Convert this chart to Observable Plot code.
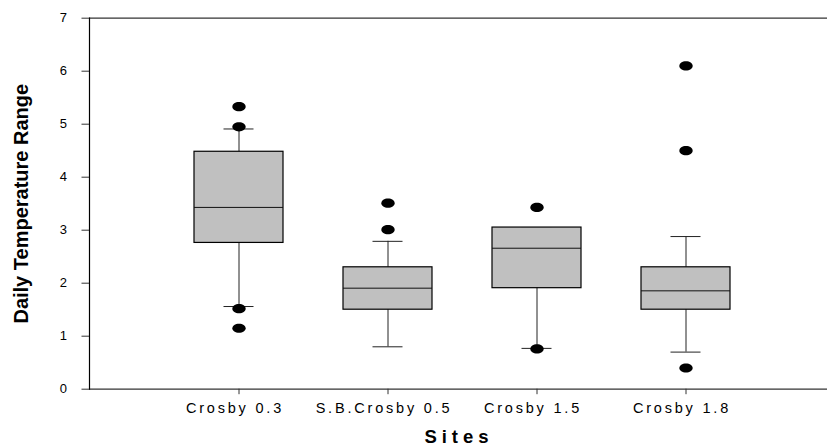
<!DOCTYPE html>
<html><head><meta charset="utf-8">
<script src="https://cdn.jsdelivr.net/npm/d3@7"></script>
<script src="https://cdn.jsdelivr.net/npm/@observablehq/plot@0.6"></script>
<style>
body{margin:0;background:#fff;overflow:hidden}
#chart{width:827px;height:447px;overflow:hidden}
</style></head><body><div id="chart"></div>
<script>
const sites = ["Crosby 0.3", "S.B.Crosby 0.5", "Crosby 1.5", "Crosby 1.8"];
const whiskerLow = [1.56, 0.80, 0.77, 0.70];
const q1 = [2.76, 1.50, 1.906, 1.50];
const median = [3.43, 1.906, 2.66, 1.856];
const q3 = [4.48, 2.30, 3.05, 2.30];
const whiskerHigh = [4.91, 2.79, 3.05, 2.88];
const outliers = [
  [5.33, 4.95, 1.52, 1.15],
  [3.51, 3.01],
  [3.43, 0.76],
  [6.10, 4.50, 0.40]
];
const yTicks = [0, 1, 2, 3, 4, 5, 6, 7];

const boxes = sites.map((site, i) => ({
  site, lo: whiskerLow[i], q1: q1[i], median: median[i], q3: q3[i], hi: whiskerHigh[i]
}));
const points = sites.flatMap((site, i) => outliers[i].map(v => ({site, v})));

const ellipse = {
  draw(ctx, size) {
    const r = Math.sqrt(size / Math.PI), rx = r * 1.45, ry = r, k = 0.5523;
    ctx.moveTo(rx, 0);
    ctx.bezierCurveTo(rx, ry * k, rx * k, ry, 0, ry);
    ctx.bezierCurveTo(-rx * k, ry, -rx, ry * k, -rx, 0);
    ctx.bezierCurveTo(-rx, -ry * k, -rx * k, -ry, 0, -ry);
    ctx.bezierCurveTo(rx * k, -ry, rx, -ry * k, rx, 0);
    ctx.closePath();
  }
};

const font = "'Liberation Sans', Arial, sans-serif";
const chart = Plot.plot({
  width: 827,
  height: 447,
  marginLeft: 89,
  marginRight: -7,
  marginTop: 17.7,
  marginBottom: 58.3,
  style: {fontFamily: font, background: "#fff", color: "#000"},
  x: {type: "band", domain: sites, paddingInner: 0.403, paddingOuter: 0.7015},
  y: {domain: [0, 7]},
  marks: [
    Plot.ruleY([0, 7], {stroke: "#333", strokeWidth: 1.2}),
    Plot.frame({anchor: "left", stroke: "#000", strokeWidth: 1.2}),
    Plot.axisY({ticks: yTicks, tickFormat: d3.format("d"), tickSize: 7.5, tickPadding: 15, fontSize: 13, label: null, stroke: "#333"}),
    Plot.axisX({tickSize: 5.5, tickFormat: () => "", label: null, stroke: "#333"}),
    Plot.text(sites, {x: d => d, text: d => d, frameAnchor: "bottom", lineAnchor: "top", dy: 14, dx: -4,
      fontSize: 14.5, fill: "#000"}),
    Plot.text(["Sites"], {text: d => d, frameAnchor: "bottom", textAnchor: "middle", lineAnchor: "bottom", dy: 54, dx: -3,
      fontSize: 18.5, fontWeight: "bold", fill: "#000"}),
    Plot.text(["Daily Temperature Range"], {text: d => d, frameAnchor: "left", textAnchor: "middle", rotate: -90, lineAnchor: "bottom",
      dx: -62, fontSize: 20, fontWeight: "bold", fill: "#000"}),
    Plot.ruleX(boxes, {x: "site", y1: "lo", y2: "q1", stroke: "#222"}),
    Plot.ruleX(boxes, {x: "site", y1: "q3", y2: "hi", stroke: "#222"}),
    Plot.tickY(boxes, {x: "site", y: "lo", inset: 29.5, stroke: "#222"}),
    Plot.tickY(boxes, {x: "site", y: "hi", inset: 29.5, stroke: "#222"}),
    Plot.barY(boxes, {x: "site", y1: "q1", y2: "q3", fill: "#c0c0c0", stroke: "#000", strokeWidth: 1.2}),
    Plot.tickY(boxes, {x: "site", y: "median", stroke: "#111"}),
    Plot.dot(points, {x: "site", y: "v", symbol: ellipse, r: 4.6, fill: "#000", stroke: "none"})
  ]
});
// letter spacing for the custom text marks
chart.querySelectorAll("text").forEach(t => {
  if (t.textContent === "Sites") t.setAttribute("letter-spacing", "5");
  if (sites.includes(t.textContent)) t.setAttribute("letter-spacing", "2.8");
});
document.getElementById("chart").appendChild(chart);
</script></body></html>
